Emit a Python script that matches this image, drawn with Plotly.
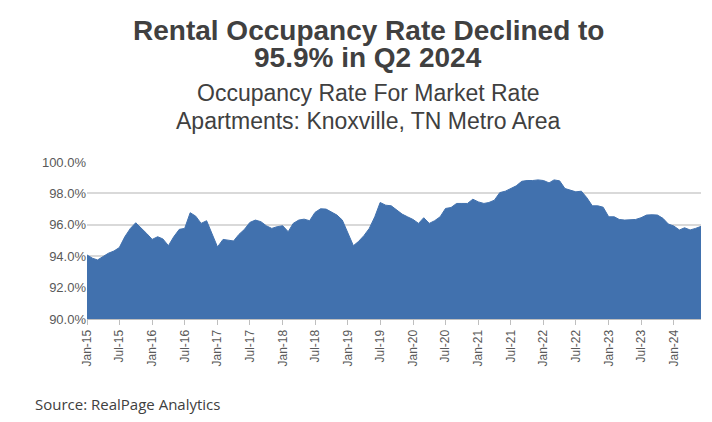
import plotly.graph_objects as go
import pandas as pd

occupancy = [94.08,93.87,93.76,93.97,94.19,94.33,94.55,95.24,95.77,96.13,95.81,95.45,
95.07,95.24,95.10,94.67,95.24,95.71,95.77,96.77,96.55,96.09,96.26,95.39,
94.59,95.07,95.03,94.97,95.39,95.71,96.15,96.30,96.20,95.94,95.77,95.88,
95.94,95.56,96.09,96.30,96.36,96.26,96.79,97.02,97.00,96.79,96.62,96.30,
95.45,94.67,94.93,95.31,95.77,96.51,97.42,97.25,97.21,96.93,96.68,96.51,
96.34,96.09,96.45,96.09,96.26,96.51,97.04,97.10,97.36,97.36,97.36,97.63,
97.46,97.36,97.42,97.57,98.05,98.14,98.31,98.48,98.77,98.82,98.82,98.86,
98.82,98.67,98.86,98.80,98.31,98.18,98.10,98.14,97.72,97.21,97.21,97.12,
96.51,96.51,96.34,96.30,96.30,96.34,96.45,96.62,96.64,96.62,96.41,96.05,
95.92,95.67,95.81,95.67,95.77,95.90]
months = pd.date_range("2015-01-01", periods=len(occupancy), freq="MS")

title_lines = ["<b>Rental Occupancy Rate Declined to</b>", "<b>95.9% in Q2 2024</b>"]
subtitle_lines = ["Occupancy Rate For Market Rate", "Apartments: Knoxville, TN Metro Area"]

fig = go.Figure(go.Scatter(x=months, y=occupancy, mode="lines", fill="tozeroy",
    line=dict(color="#4171AE", width=1), fillcolor="#4171AE", hoverinfo="skip"))

fig.update_layout(
    width=712, height=422, margin=dict(l=79, r=19, t=154, b=111),
    paper_bgcolor="white", plot_bgcolor="white", showlegend=False,
    font=dict(family="Liberation Sans, Arial", color="#595959"),
)
cx = (360 - 79) / 614
for txt, ypx, size in [(title_lines[0], 22, 28), (title_lines[1], 49, 28),
                       (subtitle_lines[0], 85, 23), (subtitle_lines[1], 113, 23)]:
    fig.add_annotation(text=txt, xref="paper", yref="paper", x=cx, y=1, yshift=154 - ypx,
        xanchor="center", yanchor="middle", showarrow=False,
        font=dict(size=size, color="#404040"))
fig.add_annotation(text="Source: RealPage Analytics", xref="paper", yref="paper",
    x=(25 - 79) / 614, y=0, yshift=-85, xanchor="left", yanchor="middle", showarrow=False,
    font=dict(family="Open Sans, Liberation Sans", size=15, color="#404040"))

fig.update_yaxes(range=[90, 100], dtick=2, tickformat=".1f", ticksuffix="%",
    showgrid=True, gridcolor="#D9D9D9", gridwidth=2, zeroline=False, automargin=False,
    tickfont=dict(size=13), showline=False)
fig.update_xaxes(range=[months[0], months[-1]], dtick="M6", tick0="2015-01-01",
    tickformat="%b-%y", tickangle=-90, ticks="outside", ticklen=5, tickcolor="#BFBFBF",
    showline=True, linecolor="#BFBFBF", showgrid=False, automargin=False,
    tickfont=dict(size=12))

fig.write_html("out.html")
